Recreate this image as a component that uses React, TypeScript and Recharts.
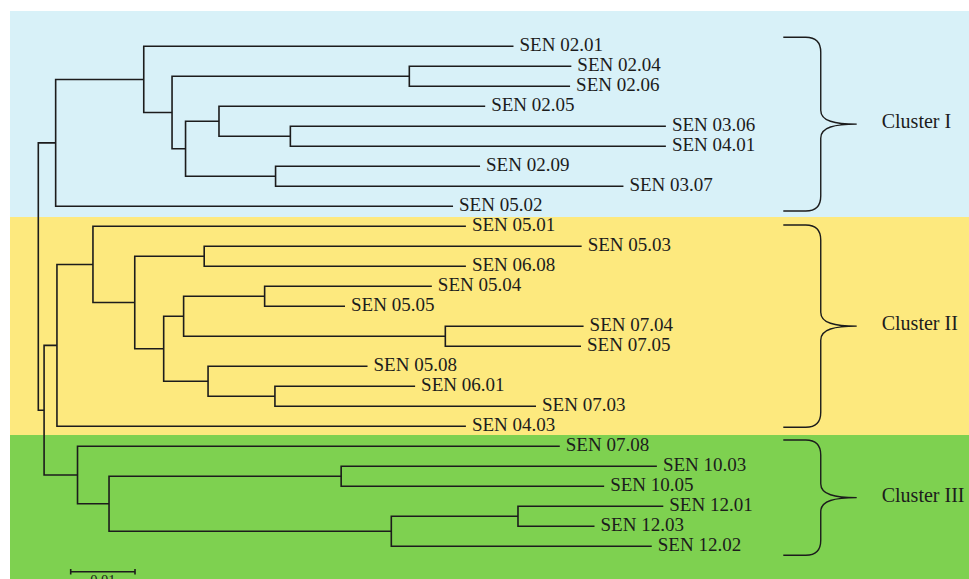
import React from 'react';
import { ComposedChart, Line, Scatter, XAxis, YAxis, ReferenceArea } from 'recharts';

// Leaves in display order (top to bottom) and their distance from the root
const leafNames = [
  'SEN 02.01', 'SEN 02.04', 'SEN 02.06', 'SEN 02.05', 'SEN 03.06', 'SEN 04.01', 'SEN 02.09', 'SEN 03.07', 'SEN 05.02',
  'SEN 05.01', 'SEN 05.03', 'SEN 06.08', 'SEN 05.04', 'SEN 05.05', 'SEN 07.04', 'SEN 07.05', 'SEN 05.08', 'SEN 06.01', 'SEN 07.03', 'SEN 04.03',
  'SEN 07.08', 'SEN 10.03', 'SEN 10.05', 'SEN 12.01', 'SEN 12.03', 'SEN 12.02',
];
const leafHeights = [
  0.0739, 0.0829, 0.0827, 0.0695, 0.0976, 0.0976, 0.0687, 0.0910, 0.0645,
  0.0665, 0.0845, 0.0665, 0.0612, 0.0477, 0.0848, 0.0844, 0.0512, 0.0586, 0.0774, 0.0665,
  0.0811, 0.0962, 0.0880, 0.0972, 0.0865, 0.0954,
];

// Internal nodes: id, two children (leaf names or node ids), distance from root
const nodeIds = [
  'n0204', 'n0306', 'n0209', 'nI4', 'nI3', 'nI2', 'nI1', 'nI',
  'n0503', 'n0504', 'n0704', 'nII5', 'n0601', 'nII6', 'nII4', 'nII2', 'nII1', 'nII',
  'n1003', 'n1201', 'nIII3', 'nIII2', 'nIII',
  'nB', 'root',
];
const nodeChildren: [string, string][] = [
  ['SEN 02.04', 'SEN 02.06'], ['SEN 03.06', 'SEN 04.01'], ['SEN 02.09', 'SEN 03.07'], ['SEN 02.05', 'n0306'],
  ['nI4', 'n0209'], ['n0204', 'nI3'], ['SEN 02.01', 'nI2'], ['nI1', 'SEN 05.02'],
  ['SEN 05.03', 'SEN 06.08'], ['SEN 05.04', 'SEN 05.05'], ['SEN 07.04', 'SEN 07.05'], ['n0504', 'n0704'],
  ['SEN 06.01', 'SEN 07.03'], ['SEN 05.08', 'n0601'], ['nII5', 'nII6'], ['n0503', 'nII4'],
  ['SEN 05.01', 'nII2'], ['nII1', 'SEN 04.03'],
  ['SEN 10.03', 'SEN 10.05'], ['SEN 12.01', 'SEN 12.03'], ['n1201', 'SEN 12.02'], ['n1003', 'nIII3'],
  ['SEN 07.08', 'nIII2'],
  ['nII', 'nIII'], ['nI', 'nB'],
];
const nodeHeights = [
  0.0577, 0.0392, 0.0369, 0.0281, 0.0229, 0.0208, 0.0164, 0.0027,
  0.0258, 0.0352, 0.0633, 0.0226, 0.0368, 0.0264, 0.0195, 0.0150, 0.0085, 0.0029,
  0.0471, 0.0746, 0.0549, 0.0110, 0.0061,
  0.0009, 0.0,
];

// Cluster groups
const clusterNames = ['Cluster I', 'Cluster II', 'Cluster III'];
const clusterFirstLeaf = [0, 9, 20];
const clusterLastLeaf = [8, 19, 25];
const clusterColors = ['#d8f1f8', '#fde97e', '#7ed150'];

const scaleBarLength = 0.01;
const scaleBarLabel = '0.01';

// ---- layout / scales ----
const W = 969;
const H = 579;
const X_DOMAIN: [number, number] = [-0.005956, 0.14474];
const Y_DOMAIN: [number, number] = [-2.315, 26.635];

const height: Record<string, number> = {};
const row: Record<string, number> = {};
leafNames.forEach((n, i) => {
  height[n] = leafHeights[i];
  row[n] = i;
});
nodeIds.forEach((id, i) => {
  height[id] = nodeHeights[i];
});
const childMap: Record<string, [string, string]> = {};
nodeIds.forEach((id, i) => {
  childMap[id] = nodeChildren[i];
});
function getRow(id: string): number {
  if (row[id] !== undefined) return row[id];
  const [a, b] = childMap[id];
  row[id] = (getRow(a) + getRow(b)) / 2;
  return row[id];
}
nodeIds.forEach((id) => getRow(id));

const nodeLines = nodeIds.map((id) => {
  const [a, b] = childMap[id];
  const h = height[id];
  return [
    { x: height[a], y: row[a] },
    { x: h, y: row[a] },
    { x: h, y: row[b] },
    { x: height[b], y: row[b] },
  ];
});

const leafPoints = leafNames.map((n, i) => ({ x: leafHeights[i], y: i, name: n }));

const bandEdges = [-1.765, 8.535, 19.435, 26.635];
const braceX: [number, number] = [0.11586, 0.12728];
const braceTop = clusterFirstLeaf.map((i, k) => [-0.45, 8.935, 19.685][k]);
const braceBottom = clusterLastLeaf.map((i, k) => [8.235, 19.05, 25.45][k]);

const sbX0 = 0.00504;
const sbRow = 26.27;
const sbTick = 0.14;
const scaleBarLine = [
  { x: sbX0, y: sbRow - sbTick },
  { x: sbX0, y: sbRow + sbTick },
  { x: sbX0, y: sbRow },
  { x: sbX0 + scaleBarLength, y: sbRow },
  { x: sbX0 + scaleBarLength, y: sbRow - sbTick },
  { x: sbX0 + scaleBarLength, y: sbRow + sbTick },
];
const scaleBarMid = [{ x: sbX0 + scaleBarLength / 2, y: sbRow, name: scaleBarLabel }];

const FONT = '"Liberation Serif", "DejaVu Serif", serif';
const INK = '#1c1c1c';

function Brace(props: any) {
  const { x, y, width, height: h, label } = props;
  const x0 = x;
  const xs = x + width * 0.51;
  const xt = x + width;
  const ym = y + h / 2;
  const r = 15;
  const d = `M${x0},${y} L${xs - r},${y} Q${xs},${y} ${xs},${y + r} L${xs},${ym - 14} C${xs},${ym - 3} ${xt - 22},${ym} ${xt},${ym} C${xt - 22},${ym} ${xs},${ym + 3} ${xs},${ym + 14} L${xs},${y + h - r} Q${xs},${y + h} ${xs - r},${y + h} L${x0},${y + h}`;
  return (
    <g>
      <path d={d} fill="none" stroke={INK} strokeWidth={1.4} />
      <text x={xt + 25} y={ym + 4} fontFamily={FONT} fontSize={20} fill={INK}>
        {label}
      </text>
    </g>
  );
}

function LeafLabel(props: any) {
  const { cx, cy, payload } = props;
  return (
    <text x={cx + 6} y={cy + 4.5} fontFamily={FONT} fontSize={19} fill={INK}>
      {payload.name}
    </text>
  );
}

function ScaleLabel(props: any) {
  const { cx, cy, payload } = props;
  return (
    <text x={cx} y={cy + 13} textAnchor="middle" fontFamily={FONT} fontSize={14.5} fill={INK}>
      {payload.name}
    </text>
  );
}

export default function App() {
  return (
    <div style={{ position: 'absolute', left: 0, top: 0, width: W, height: H, background: '#fff' }}>
      <ComposedChart width={W} height={H} margin={{ top: 0, right: 0, bottom: 0, left: 0 }}>
        <XAxis type="number" dataKey="x" domain={X_DOMAIN} allowDataOverflow hide />
        <YAxis type="number" dataKey="y" domain={Y_DOMAIN} reversed allowDataOverflow hide width={0} />
        {clusterColors.map((c, k) => (
          <ReferenceArea
            key={'band' + k}
            x1={-0.0044}
            x2={X_DOMAIN[1]}
            y1={bandEdges[k]}
            y2={bandEdges[k + 1]}
            fill={c}
            fillOpacity={1}
            stroke="none"
            ifOverflow="visible"
          />
        ))}
        {clusterNames.map((name, k) => (
          <ReferenceArea
            key={'brace' + k}
            x1={braceX[0]}
            x2={braceX[1]}
            y1={braceTop[k]}
            y2={braceBottom[k]}
            ifOverflow="visible"
            shape={(p: any) => <Brace {...p} label={name} />}
          />
        ))}
        {nodeLines.map((pts, i) => (
          <Line
            key={'node' + i}
            data={pts}
            dataKey="y"
            type="linear"
            stroke={INK}
            strokeWidth={1.6}
            dot={false}
            activeDot={false}
            isAnimationActive={false}
            strokeLinejoin="miter"
          />
        ))}
        <Line
          data={scaleBarLine}
          dataKey="y"
          type="linear"
          stroke={INK}
          strokeWidth={1.6}
          dot={false}
          activeDot={false}
          isAnimationActive={false}
        />
        <Scatter data={leafPoints} shape={<LeafLabel />} isAnimationActive={false} />
        <Scatter data={scaleBarMid} shape={<ScaleLabel />} isAnimationActive={false} />
      </ComposedChart>
    </div>
  );
}
